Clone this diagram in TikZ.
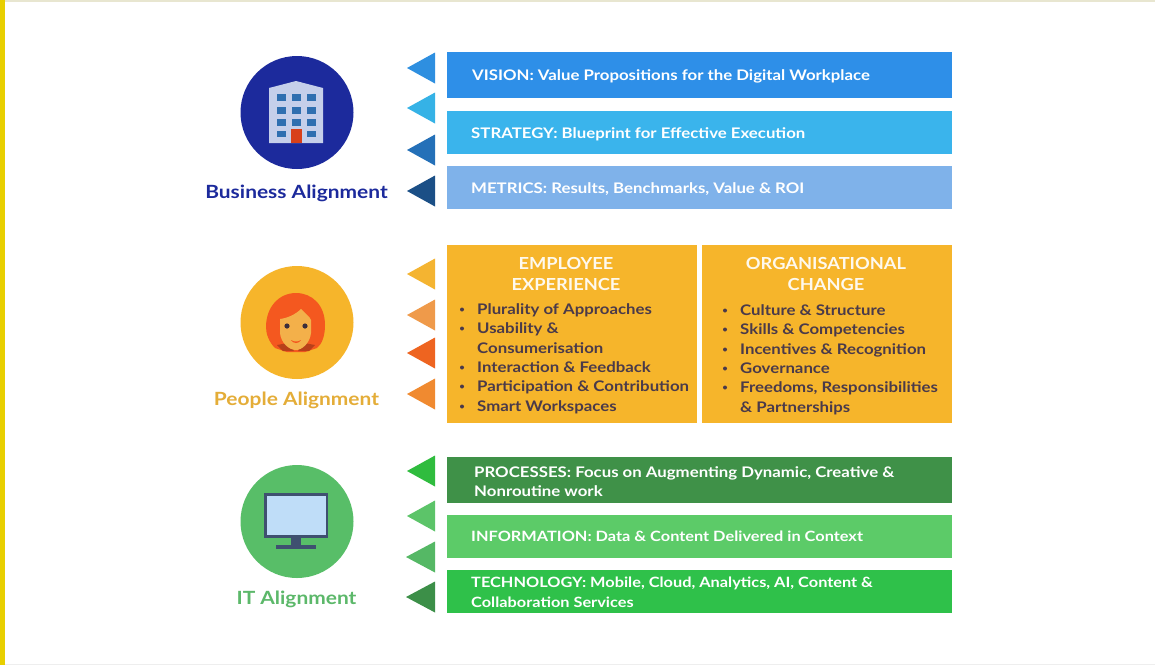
\documentclass[tikz,border=0pt]{standalone}
\usepackage{fontspec}
\setmainfont[FakeStretch=1.15]{Lato}
\newfontfamily\headf[FakeStretch=1.1]{Lato}
\definecolor{navy}{HTML}{1C2A9C}
\definecolor{amber}{HTML}{F6B52B}
\definecolor{leaf}{HTML}{58BE68}
\definecolor{ink}{HTML}{4A3A4A}
\definecolor{edgeyellow}{HTML}{E8CF00}
\definecolor{topline}{HTML}{E8E6D0}
\definecolor{botline}{HTML}{EEEEEE}
\definecolor{bA}{HTML}{2E8FE8}\definecolor{bB}{HTML}{3AB4EC}\definecolor{bC}{HTML}{7FB2EA}
\definecolor{tA}{HTML}{2E8FE0}\definecolor{tB}{HTML}{35B2E6}\definecolor{tC}{HTML}{2470B8}\definecolor{tD}{HTML}{1B4F86}
\definecolor{oA}{HTML}{F4B431}\definecolor{oB}{HTML}{EF9A4A}\definecolor{oC}{HTML}{EE6420}\definecolor{oD}{HTML}{F08A30}
\definecolor{gA}{HTML}{2FBC3E}\definecolor{gB}{HTML}{5CC469}\definecolor{gC}{HTML}{55B865}\definecolor{gD}{HTML}{3C8F48}
\definecolor{barG}{HTML}{3F9148}\definecolor{barH}{HTML}{5CCB68}\definecolor{barI}{HTML}{2FC14A}
\definecolor{bldg}{HTML}{C5CFEA}\definecolor{win}{HTML}{2F6FB0}\definecolor{door}{HTML}{D8401A}
\definecolor{hair}{HTML}{F4581F}\definecolor{face}{HTML}{F3B04A}\definecolor{collar}{HTML}{B8401A}
\definecolor{scr}{HTML}{BFDDF8}\definecolor{frm}{HTML}{3F5070}
\tikzset{
 x=1pt,y=-1pt,
 txt/.style={anchor=base west,inner sep=0pt,font=\fontsize{14.6}{16}\selectfont\bfseries},
 wtxt/.style={txt,text=white},
 wtxtn/.style={wtxt,font=\fontsize{14.2}{16}\selectfont\bfseries},
 dtxt/.style={txt,text=ink},
 head/.style={anchor=base,inner sep=0pt,text=white!92!amber,font=\headf\fontsize{16.6}{19}\selectfont\bfseries},
 ttl/.style={anchor=base,inner sep=0pt,font=\fontsize{18.2}{20}\selectfont\bfseries},
 bul/.style={fill=ink,circle,inner sep=0pt,minimum size=4pt}
}
\newcommand{\tri}[3]{\fill[#1] (#2,#3) -- (435,#3-15.5) -- (435,#3+15.5) -- cycle;}
\begin{document}
\begin{tikzpicture}
\useasboundingbox (0,0) rectangle (1155,665);
\fill[white] (0,0) rectangle (1155,665);
\fill[topline] (0,0) rectangle (1155,1.5);
\fill[botline] (0,663.5) rectangle (1155,665);
\fill[edgeyellow] (0,0) rectangle (4.5,665);

% bars
\fill[bA] (447,52) rectangle (952,98);
\fill[bB] (447,111) rectangle (952,154);
\fill[bC] (447,166) rectangle (952,209);
\fill[amber] (447,245) rectangle (697,423);
\fill[amber] (702,245) rectangle (952,423);
\fill[barG] (447,457) rectangle (952,503);
\fill[barH] (447,515) rectangle (952,558);
\fill[barI] (447,570) rectangle (952,613);

% triangles
\tri{tA}{407}{68}\tri{tB}{407}{108}\tri{tC}{407}{150}\tri{tD}{407}{191}
\tri{oA}{407}{274}\tri{oB}{407}{315}\tri{oC}{407}{353}\tri{oD}{407}{394}
\tri{gA}{407}{471}\tri{gB}{407}{516}\tri{gC}{406}{557}\tri{gD}{406}{597}

% circles
\fill[navy] (297,112.5) circle[radius=56.5];
\fill[amber] (297,322.5) circle[radius=56.5];
\fill[leaf] (297,521.5) circle[radius=56.5];

% building
\fill[bldg] (269,143) -- (269,88) -- (296,81) -- (323,88) -- (323,143) -- cycle;
\foreach \yy/\hh in {94/7,107/6.5,119/7}
 \foreach \xx in {277,292,307}
  \fill[win] (\xx,\yy) rectangle (\xx+9,\yy+\hh);
\fill[win] (277,131) rectangle (286,137);
\fill[win] (307,131) rectangle (316,137);
\fill[door] (291,129) rectangle (302,143);

% person
\fill[hair] (296,293) .. controls (312,293) and (325,305) .. (325,325)
 .. controls (325,336) and (322,344) .. (317,348) -- (305,352) -- (287,352) -- (275,348)
 .. controls (269,342) and (266,334) .. (266,327) .. controls (266,307) and (279,293) .. (296,293) -- cycle;
\fill[collar] (277,345) -- (288,343) -- (294,351) -- (283,351) -- cycle;
\fill[collar] (315,345) -- (304,343) -- (298,351) -- (309,351) -- cycle;
\fill[face] (280,319) .. controls (288,318) and (296,314) .. (301,309)
 .. controls (305,313) and (310,317) .. (311,320) -- (311,333)
 .. controls (310,343) and (302,350) .. (296,350)
 .. controls (289,350) and (281,343) .. (280,333) -- cycle;
\fill[ink!80!black] (287,326) circle[radius=2.6];
\fill[ink!80!black] (305,326) circle[radius=2.6];
\fill[hair] (291,340) .. controls (294,342) and (298,342) .. (301,340) .. controls (299,344) and (293,344) .. (291,340) -- cycle;

% monitor
\fill[frm] (264,493) rectangle (328,538);
\fill[scr] (267,496) rectangle (326,535);
\fill[frm] (291,538) rectangle (301,545);
\fill[frm] (276,545) rectangle (316,549);

% left titles
\node[ttl,text=navy] (tb) at (296.5,198) {Business Alignment};
\node[ttl,text=amber!85!gray] (tp) at (296.5,405) {People Alignment};
\node[ttl,text=leaf!90!gray] (ti) at (296.5,604) {IT Alignment};

% top bar text
\node[wtxt] (v) at (472,80) {VISION: Value Propositions for the Digital Workplace};
\node[wtxt] (s) at (471,138) {STRATEGY: Blueprint for Effective Execution};
\node[wtxt] (m) at (471,193) {METRICS: Results, Benchmarks, Value \& ROI};

% headings
\node[head] (h1) at (566,269) {EMPLOYEE};
\node[head] (h2) at (566,290) {EXPERIENCE};
\node[head] (h3) at (826,269) {ORGANISATIONAL};
\node[head] (h4) at (826,290) {CHANGE};

% left list
\foreach \yy/\tx/\b in {
 314/{Plurality of Approaches}/1,
 333/{Usability \&}/1,
 353/{Consumerisation}/0,
 372/{Interaction \& Feedback}/1,
 391/{Participation \& Contribution}/1,
 411/{Smart Workspaces}/1}{
 \node[dtxt] at (477,\yy) {\tx};
 \ifnum\b=1 \node[bul] at (462,\yy-4.5) {};\fi
}
% right list
\foreach \yy/\tx/\b in {
 315/{Culture \& Structure}/1,
 334/{Skills \& Competencies}/1,
 354/{Incentives \& Recognition}/1,
 373/{Governance}/1,
 392/{Freedoms, Responsibilities}/1,
 412/{\& Partnerships}/0}{
 \node[dtxt] at (740,\yy) {\tx};
 \ifnum\b=1 \node[bul] at (725,\yy-4.5) {};\fi
}

% green bar text
\node[wtxt] (p1) at (474,477) {PROCESSES: Focus on Augmenting Dynamic, Creative \&};
\node[wtxt] (p2) at (474,496) {Nonroutine work};
\node[wtxtn] (i) at (471,541) {INFORMATION: Data \& Content Delivered in Context};
\node[wtxtn] (t1) at (471,587) {TECHNOLOGY: Mobile, Cloud, Analytics, AI, Content \&};
\node[wtxtn] (t2) at (471,607) {Collaboration Services};
\end{tikzpicture}
\end{document}
